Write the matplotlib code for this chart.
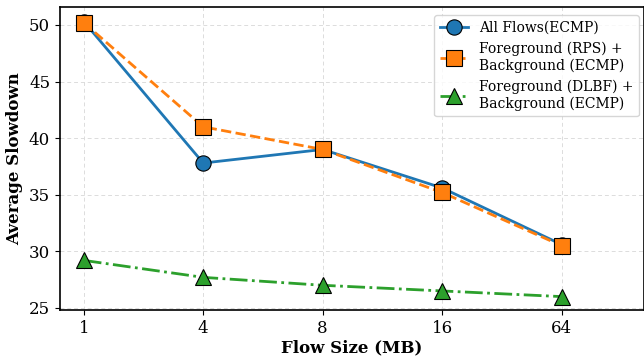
import matplotlib
matplotlib.use('Agg')
import matplotlib.pyplot as plt

plt.rcParams['font.family'] = 'DejaVu Serif'

# flow sizes (MB) shown as evenly spaced categories
sizes = ['1', '4', '8', '16', '64']
all_ecmp = [50.3, 37.8, 39.0, 35.6, 30.6]
rps_ecmp = [50.2, 41.0, 39.0, 35.2, 30.5]
dlbf_ecmp = [29.2, 27.7, 27.0, 26.5, 26.0]

x = list(range(len(sizes)))

fig = plt.figure(figsize=(6.44, 3.6), dpi=100)
ax = fig.add_axes([0.093, 0.139, 0.907, 0.842])

ax.plot(x, all_ecmp, color='#1f77b4', linestyle='-', linewidth=2, marker='o',
        markersize=11, markeredgecolor='black', markeredgewidth=0.8,
        label='All Flows(ECMP)')
ax.plot(x, rps_ecmp, color='#ff7f0e', linestyle='--', linewidth=2, marker='s',
        markersize=11, markeredgecolor='black', markeredgewidth=0.8,
        label='Foreground (RPS) +\nBackground (ECMP)')
ax.plot(x, dlbf_ecmp, color='#2ca02c', linestyle='-.', linewidth=2, marker='^',
        markersize=11, markeredgecolor='black', markeredgewidth=0.8,
        label='Foreground (DLBF) +\nBackground (ECMP)')

ax.set_xticks(x)
ax.set_xticklabels(sizes)
ax.set_xlim(-0.2, 4.69)
ax.set_ylim(24.82, 51.6)
ax.set_yticks([25, 30, 35, 40, 45, 50])
ax.tick_params(labelsize=12)
ax.set_xlabel('Flow Size (MB)', fontsize=12, fontweight='bold', labelpad=2)
ax.set_ylabel('Average Slowdown', fontsize=12, fontweight='bold')
ax.grid(True, linestyle=(0, (4, 3)), color='#dcdcdc', linewidth=0.7)
for s in ax.spines.values():
    s.set_linewidth(1.2)

ax.legend(loc='upper right', fontsize=10, handlelength=2,
          bbox_to_anchor=(1.003, 0.995))

fig.savefig('out.png', dpi=100)
